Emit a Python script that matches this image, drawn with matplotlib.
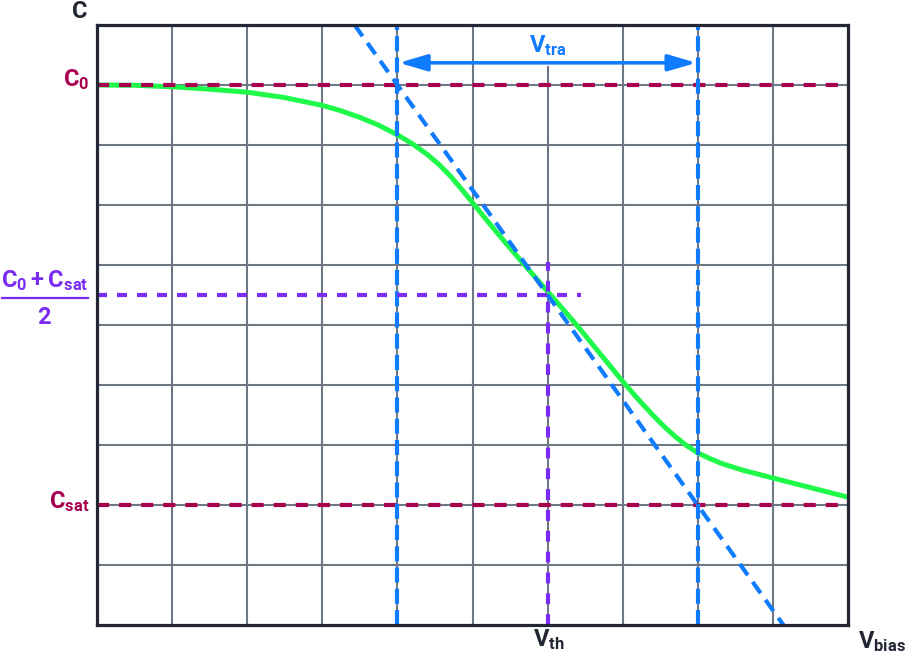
import matplotlib
matplotlib.use("Agg")
import matplotlib.pyplot as plt

plt.rcParams['font.family'] = ['Roboto', 'DejaVu Sans']
plt.rcParams['mathtext.fontset'] = 'custom'
plt.rcParams['mathtext.rm'] = 'Roboto:bold'
plt.rcParams['mathtext.it'] = 'Roboto:bold'
plt.rcParams['mathtext.bf'] = 'Roboto:bold'

# ---- data ----
curve_x = [0, 0.5, 1, 1.5, 2, 2.5, 3, 3.25, 3.5, 3.75, 4, 4.2, 4.4, 4.55, 4.7, 4.85, 5.0, 5.2, 5.4, 5.7, 6.0, 6.2, 6.4, 6.7, 7.0, 7.2, 7.4, 7.55, 7.7, 7.85, 8.0, 8.15, 8.32, 8.6, 9.0, 9.5, 10]
curve_y = [9.0, 8.995, 8.97, 8.93, 8.88, 8.79, 8.66, 8.57, 8.46, 8.33, 8.17, 8.02, 7.84, 7.68, 7.49, 7.27, 7.04, 6.73, 6.43, 5.99, 5.56, 5.27, 4.98, 4.52, 4.06, 3.77, 3.5, 3.31, 3.14, 2.99, 2.87, 2.78, 2.69, 2.58, 2.45, 2.29, 2.13]
c0 = 9.0
csat = 2.0
cmid = 5.5
vth = 6.0
v_tra_start = 4.0
v_tra_end = 8.0
tangent_x = [3.43, 9.14]
tangent_y = [10.0, 0.0]
grid_x = [1, 2, 3, 4, 5, 6, 7, 8, 9]
grid_y = [1, 2, 3, 4, 5, 6, 7, 8, 9]
arrow_y = 9.37

GRID = '#6f7684'
BORDER = '#232733'
CRIMSON = '#a8004f'
PURPLE = '#7a2cf5'
BLUE = '#0f7bff'
GREEN = '#1ff94a'
FS = 17

fig = plt.figure(figsize=(9.06, 6.58), dpi=100)
ax = fig.add_axes([97/906, 33/658, 751/906, 600/658])
ax.set_xlim(0, 10)
ax.set_ylim(0, 10)
ax.set_xticks([])
ax.set_yticks([])
for s in ax.spines.values():
    s.set_color(BORDER)
    s.set_linewidth(2.3)
    s.set_zorder(10)

# grid
for gx in grid_x:
    top = 9.3 if gx == vth else 10
    ax.plot([gx, gx], [0, top], color=GRID, lw=1.5, zorder=1)
for gy in grid_y:
    ax.plot([0, 10], [gy, gy], color=GRID, lw=1.5, zorder=1)

# C0 and Csat
ax.plot([0, 10], [c0, c0], color=CRIMSON, lw=3, dashes=[2.9, 2.4], zorder=4)
ax.plot([0, 10], [csat, csat], color=CRIMSON, lw=3, dashes=[2.9, 2.4], zorder=4)

# green curve
ax.plot(curve_x, curve_y, color=GREEN, lw=3.6, zorder=3, solid_capstyle='butt',
        solid_joinstyle='round')

# blue tangent & verticals
ax.plot(tangent_x, tangent_y, color=BLUE, lw=3, dashes=[3.3, 2.0], zorder=5)
ax.plot([v_tra_start, v_tra_start], [0, 10], color=BLUE, lw=3, dashes=[3.6, 1.5], zorder=5)
ax.plot([v_tra_end, v_tra_end], [0, 10], color=BLUE, lw=3, dashes=[3.6, 1.5], zorder=5)

# purple lines
ax.plot([0, 6.44], [cmid, cmid], color=PURPLE, lw=3, dashes=[2.4, 2.4], zorder=6)
ax.plot([vth, vth], [0, 6.05], color=PURPLE, lw=3, dashes=[2.6, 2.4], zorder=6)

# arrow
ax.annotate('', xy=(v_tra_end - 0.02, arrow_y), xytext=(v_tra_start + 0.02, arrow_y),
            arrowprops=dict(arrowstyle='<|-|>,head_length=1.7,head_width=0.5',
                            color=BLUE, lw=2.6, shrinkA=0, shrinkB=0), zorder=7)
ax.text((v_tra_start + v_tra_end) / 2, 9.66, r'$\mathrm{V}_{\mathrm{tra}}$', color=BLUE,
        fontsize=FS, ha='center', va='center')

# labels
fig.text(80/906, 1 - 12/658, 'C', color=BORDER, fontsize=FS, fontweight='bold', ha='center', va='center')
fig.text(89/906, 1 - 80/658, r'$\mathrm{C}_{0}$', color=CRIMSON, fontsize=FS, ha='right', va='center')
fig.text(89/906, 1 - 502/658, r'$\mathrm{C}_{\mathrm{sat}}$', color=CRIMSON, fontsize=FS, ha='right', va='center')
fig.text(45/906, 1 - 281/658, r'$\mathrm{C}_{0}+\mathrm{C}_{\mathrm{sat}}$', color=PURPLE, fontsize=FS, ha='center', va='center')
fig.add_artist(plt.Line2D([2/906, 88/906], [1 - 298/658, 1 - 298/658], color=PURPLE, lw=1.6))
fig.text(44/906, 1 - 318/658, '2', color=PURPLE, fontsize=FS, fontweight='bold', ha='center', va='center')
fig.text(549/906, 1 - 640/658, r'$\mathrm{V}_{\mathrm{th}}$', color=BORDER, fontsize=FS, ha='center', va='center')
fig.text(882/906, 1 - 642/658, r'$\mathrm{V}_{\mathrm{bias}}$', color=BORDER, fontsize=FS, ha='center', va='center')

fig.savefig('out.png', dpi=100)
